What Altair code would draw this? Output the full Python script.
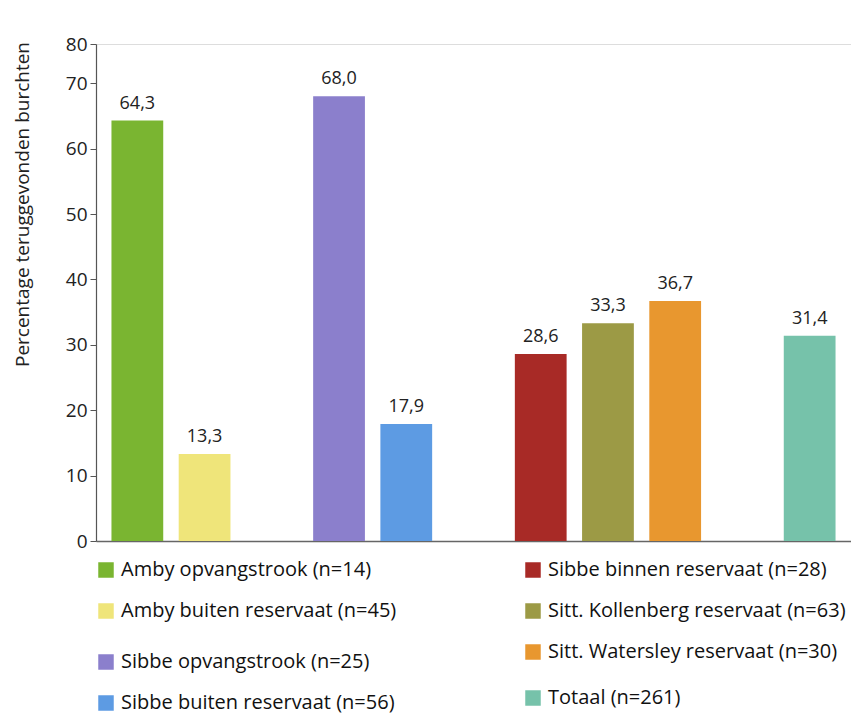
import altair as alt
import pandas as pd

categories = [
    "Amby opvangstrook (n=14)",
    "Amby buiten reservaat (n=45)",
    "Sibbe opvangstrook (n=25)",
    "Sibbe buiten reservaat (n=56)",
    "Sibbe binnen reservaat (n=28)",
    "Sitt. Kollenberg reservaat (n=63)",
    "Sitt. Watersley reservaat (n=30)",
    "Totaal (n=261)",
]
values = [64.3, 13.3, 68.0, 17.9, 28.6, 33.3, 36.7, 31.4]
groups = ["A", "A", "B", "B", "C", "C", "C", "D"]
colors = ["#7ab531", "#efe57a", "#8b7fcc", "#5d9be3",
          "#a82a26", "#9c9a45", "#e8972f", "#76c2aa"]

# x slots, with empty gaps between the groups
x_slots = [categories[0], categories[1], "gap1",
           categories[2], categories[3], "gap2",
           categories[4], categories[5], categories[6], "gap3",
           categories[7]]

y_tick_values = [0, 10, 20, 30, 40, 50, 60, 70, 76]
y_tick_labels = ["0", "10", "20", "30", "40", "50", "60", "70", "80"]

df = pd.DataFrame({"cat": categories, "value": values, "group": groups})

FONT = "Open Sans"

label_expr = " : ".join(
    [f"datum.value == {v} ? '{l}'" for v, l in zip(y_tick_values, y_tick_labels)]
) + " : datum.label"

x_enc = alt.X(
    "cat:N",
    scale=alt.Scale(domain=x_slots, paddingInner=0.23, paddingOuter=0.23),
    axis=alt.Axis(labels=False, ticks=False, title=None, domainColor="#666666",
                  domainWidth=1.5),
)
y_enc = alt.Y(
    "value:Q",
    scale=alt.Scale(domain=[0, 76], nice=False, zero=True),
    axis=alt.Axis(
        values=y_tick_values, labelExpr=label_expr, grid=False,
        title="Percentage teruggevonden burchten",
        titleFontSize=19, titleFontWeight="normal", titleColor="#222222",
        titleX=-64, titleY=160, titleAngle=270, titleBaseline="bottom",
        titleAlign="center",
        labelFontSize=19, labelColor="#222222", labelPadding=3,
        tickSize=6, tickColor="#555555", domainColor="#555555", domainWidth=1.2,
    ),
)

legend_pos = {"A": (0, 516), "B": (0, 608), "C": (427, 516), "D": (427, 644)}

layers = []
for g in ["A", "B", "C", "D"]:
    cats_g = [c for c, gg in zip(categories, groups) if gg == g]
    cols_g = [col for col, gg in zip(colors, groups) if gg == g]
    lx, ly = legend_pos[g]
    layer = alt.Chart(df).transform_filter(
        alt.datum.group == g
    ).mark_bar().encode(
        x=x_enc,
        y=y_enc,
        color=alt.Color(
            "cat:N",
            scale=alt.Scale(domain=cats_g, range=cols_g),
            legend=alt.Legend(
                title=None, orient="none", legendX=lx, legendY=ly,
                symbolType="square", symbolSize=240, symbolStrokeWidth=0,
                labelFontSize=20, labelFont=FONT, labelColor="#111111",
                labelOffset=5, rowPadding=21, padding=0, labelLimit=400,
            ),
        ),
    )
    layers.append(layer)

text = alt.Chart(df).transform_calculate(
    lab="replace(format(datum.value, '.1f'), '.', ',')"
).mark_text(dy=-12, baseline="alphabetic", fontSize=18, font=FONT,
            color="#222222").encode(
    x=x_enc, y=y_enc, text="lab:N"
)

chart = alt.layer(*layers, text).resolve_scale(color="independent").properties(
    width=755, height=497,
    autosize=alt.AutoSizeParams(type="none"),
    padding={"left": 88, "top": 36, "right": 0, "bottom": 173},
).configure_view(stroke=None).configure(font=FONT)

chart.save("out.html", embed_options={"renderer": "svg", "actions": False})
